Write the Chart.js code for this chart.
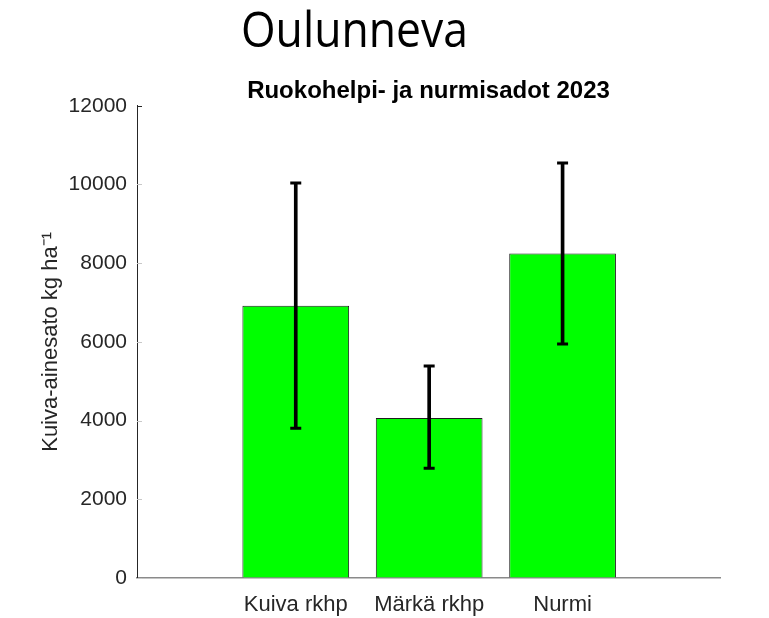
<!DOCTYPE html>
<html>
<head>
<meta charset="utf-8">
<script src="https://cdn.jsdelivr.net/npm/chart.js@4/dist/chart.umd.min.js"></script>
<style>
  html, body { margin: 0; padding: 0; background: #ffffff; }
  #wrap { position: relative; width: 769px; height: 618px; overflow: hidden; }
  #bigtitle {
    position: absolute; left: 241px; top: 3px;
    font-family: "Open Sans", "Noto Sans", sans-serif; font-size: 50px; line-height: 1;
    color: #000; white-space: nowrap;
    transform: scaleX(0.89); transform-origin: left top;
  }
  canvas { position: absolute; left: 0; top: 0; }
</style>
</head>
<body>
<div id="wrap">
  <canvas id="c" width="769" height="618"></canvas>
  <div id="bigtitle">Oulunneva</div>
</div>
<script>
// ---- data ----
const categories = ['Kuiva rkhp', 'Märkä rkhp', 'Nurmi'];
const yields = [6920, 4065, 8245];           // bar heights (kg/ha)
const errLower = [3805, 2790, 5945];         // lower end of error bar
const errUpper = [10035, 5390, 10545];       // upper end of error bar
const yTicks = [0, 2000, 4000, 6000, 8000, 10000, 12000];
const chartTitle = 'Ruokohelpi- ja nurmisadot 2023';
const yAxisTitle = 'Kuiva-ainesato kg ha\u207B\u00B9';

const positions = categories.map((_, i) => i + 1);

const inwardTicks = {
  id: 'inwardTicks',
  afterDatasetsDraw(chart) {
    const ys = chart.scales.y;
    const ctx = chart.ctx;
    ctx.save();
    ctx.lineWidth = 1;
    yTicks.forEach((v, i) => {
      const py = Math.round(ys.getPixelForValue(v)) + 0.5;
      ctx.strokeStyle = (i === yTicks.length - 1) ? '#262626' : '#c8c8c8';
      ctx.beginPath();
      ctx.moveTo(ys.right, py);
      ctx.lineTo(ys.right + 5, py);
      ctx.stroke();
    });
    ctx.restore();
  }
};

const font = 'Liberation Sans, Arial, Helvetica, sans-serif';

new Chart(document.getElementById('c'), {
  type: 'bar',
  data: {
    datasets: [
      {
        type: 'scatter',
        order: 1,
        data: positions.flatMap((x, i) => [{ x: x, y: errLower[i] }, { x: x, y: errUpper[i] }]),
        pointStyle: 'line',
        pointRadius: 5.5,
        pointBorderWidth: 3,
        borderColor: '#000000',
        backgroundColor: '#000000',
        borderWidth: 3
      },
      {
        type: 'bar',
        order: 2,
        grouped: false,
        data: positions.map((x, i) => ({ x: x, y: [errLower[i], errUpper[i]] })),
        backgroundColor: '#000000',
        borderWidth: 0,
        barThickness: 3
      },
      {
        type: 'bar',
        order: 3,
        grouped: false,
        data: positions.map((x, i) => ({ x: x, y: yields[i] })),
        backgroundColor: '#00ff00',
        borderColor: '#1e1e1e',
        borderWidth: 1,
        borderSkipped: 'bottom',
        barPercentage: 1,
        categoryPercentage: 0.8
      }
    ]
  },
  options: {
    responsive: false,
    animation: false,
    devicePixelRatio: 1,
    layout: { padding: { left: 0, right: 49, top: 0, bottom: 0 } },
    plugins: {
      legend: { display: false },
      tooltip: { enabled: false },
      title: {
        display: true,
        text: chartTitle,
        fullSize: false,
        color: '#000000',
        font: { family: font, size: 24, weight: 'bold' },
        padding: { top: 77, bottom: 0 }
      }
    },
    scales: {
      x: {
        type: 'linear',
        min: -0.19,
        max: 4.18,
        offset: false,
        afterBuildTicks: s => { s.ticks = positions.map(v => ({ value: v })); },
        afterFit: s => { s.height = 40; },
        ticks: {
          autoSkip: false,
          maxRotation: 0,
          padding: 14,
          color: '#262626',
          font: { family: font, size: 22 },
          callback: v => categories[v - 1] || ''
        },
        grid: { display: true, drawOnChartArea: false, drawTicks: false, offset: false },
        border: { display: true, color: '#8a8a8a', width: 1.5 }
      },
      y: {
        min: 0,
        max: 12000,
        afterBuildTicks: s => { s.ticks = yTicks.map(v => ({ value: v })); },
        afterFit: s => { s.width = 137; },
        ticks: {
          padding: 10,
          color: '#262626',
          font: { family: font, size: 21 },
          callback: v => String(v)
        },
        grid: { display: true, drawOnChartArea: false, drawTicks: false },
        border: { display: true, color: '#262626', width: 1 },
        title: {
          display: true,
          text: yAxisTitle,
          color: '#262626',
          font: { family: font, size: 22 },
          padding: { top: 38, bottom: 0 }
        }
      }
    }
  },
  plugins: [inwardTicks]
});
</script>
</body>
</html>
